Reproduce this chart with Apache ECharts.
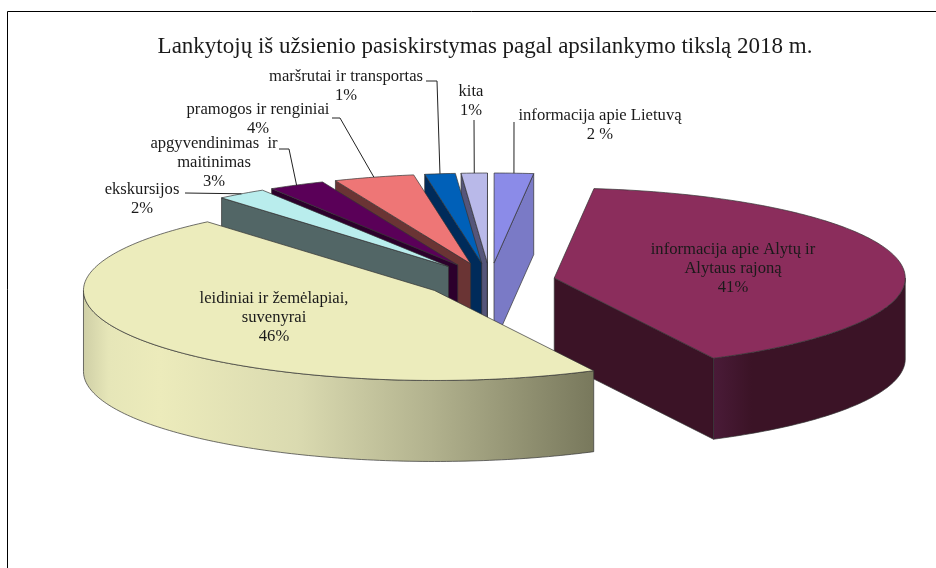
<!DOCTYPE html>
<html><head><meta charset="utf-8">
<style>html,body{margin:0;padding:0;background:#fff}#c{width:936px;height:568px}</style>
<script src="https://cdn.jsdelivr.net/npm/echarts@6/dist/echarts.min.js"></script>
</head><body><div id="c"></div>
<script>
// Draw order: back to front
const categories = ['informacija apie Alytų ir\nAlytaus rajoną','informacija apie Lietuvą','kita','maršrutai ir transportas','pramogos ir renginiai','apgyvendinimas  ir\nmaitinimas','ekskursijos','leidiniai ir žemėlapiai,\nsuvenyrai'];
const values = [40.7, 1.8, 1.2, 1.4, 3.7, 2.6, 2.3, 46.3];
const percentLabels = ['41%','2 %','1%','1%','4%','3%','2%','46%'];
const topColors = ['#8b2d5c','#8b8be8','#b9b9e9','#0060b8','#ee7676','#5a0058','#b9eded','#ececbc'];
const wallColors = ['#3b1326','#7a7ac6','#55557a','#002b5a','#6a3434','#2c002c','#526666','#ececbc'];
const explodeRatio = [0.186,0.2,0.2,0.2,0.2,0.2,0.2,0.19];
const labelAnchors = [[733,269],[600,125],[471,101],[346,86],[258,119],[214,163],[142,199],[274,318]];
const leaderElbows = [null,[[514,122]],[[474,120]],[[426,81],[437,81]],[[332,118],[340,118]],[[279,149],[289,149]],[[185,193]],null];

const CX = 490, CY = 281, RX = 351, RY = 90, H = 81, START = 6.5;
const rad = d => d * Math.PI / 180;
const total = values.reduce((a, b) => a + b, 0);
const slices = [];
let cursor = START;
values.forEach((v, i) => {
  const sweep = v / total * 360;
  let t1, t2;
  if (i === 0) { t1 = START; t2 = START + sweep; }
  else { t2 = cursor; t1 = cursor - sweep; cursor = t1; }
  const m = (t1 + t2) / 2;
  const e = explodeRatio[i];
  slices.push({ t1, t2, px: CX + e * RX * Math.sin(rad(m)), py: CY - e * RY * Math.cos(rad(m)) });
});
const rim = (s, t, dy) => [s.px + RX * Math.sin(rad(t)), s.py - RY * Math.cos(rad(t)) + (dy || 0)];
const arc = (s, a, b, dy) => { const r = []; const n = Math.max(2, Math.ceil(Math.abs(b - a))); for (let k = 0; k <= n; k++) r.push(rim(s, a + (b - a) * k / n, dy)); return r; };
const edgeStyle = { stroke: '#333333', lineWidth: 0.7 };
const poly = (points, fill) => ({ type: 'polygon', shape: { points }, style: Object.assign({ fill }, edgeStyle) });

function renderSlice(params, api) {
  const i = api.value(0);
  const s = slices[i];
  const fill = wallColors[i];
  const kids = [];
  const face = t => { const r = rim(s, t); return [[s.px, s.py], r, [r[0], r[1] + H], [s.px, s.py + H]]; };
  if (Math.sin(rad(s.t1)) < 0 && i !== values.length - 1) kids.push(poly(face(s.t1), fill));
  if (Math.sin(rad(s.t2)) > 0) kids.push(poly(face(s.t2), fill));
  let from = Math.max(s.t1, 90), to = Math.min(s.t2, 270);
  if (s.t2 <= 0) { from = Math.max(s.t1 + 360, 90); to = Math.min(s.t2 + 360, 270); }
  if (to > from) {
    const wall = arc(s, from, to).concat(arc(s, to, from, H));
    let wf = fill;
    if (i === values.length - 1) wf = new echarts.graphic.LinearGradient(0, 0, 1, 0, [
      { offset: 0, color: '#cfcfa6' }, { offset: 0.05, color: '#e6e6b8' }, { offset: 0.15, color: '#ecebbb' }, { offset: 0.42, color: '#dadab0' },
      { offset: 0.68, color: '#b2b28e' }, { offset: 1, color: '#78785c' }]);
    if (i === 0) wf = new echarts.graphic.LinearGradient(0, 0, 1, 0, [
      { offset: 0, color: '#4a1b38' }, { offset: 0.2, color: '#3b1326' }, { offset: 1, color: '#3b1326' }]);
    kids.push(poly(wall, wf));
  }
  kids.push(poly([[s.px, s.py]].concat(arc(s, s.t1, s.t2)), topColors[i]));
  return { type: 'group', children: kids };
}

function renderLabel(params, api) {
  const i = api.value(0);
  const kids = [{ type: 'text', style: { text: categories[i] + '\n' + percentLabels[i], x: labelAnchors[i][0], y: labelAnchors[i][1], align: 'center', verticalAlign: 'middle',
    font: '16.6px "Liberation Serif"', fill: '#1a1a1a', lineHeight: 19 } }];
  if (leaderElbows[i]) {
    const s = slices[i], m = (s.t1 + s.t2) / 2;
    const pts = leaderElbows[i].concat([rim(s, m)]);
    kids.push({ type: 'polyline', shape: { points: pts }, style: { stroke: '#222', lineWidth: 1, fill: 'none' } });
  }
  return { type: 'group', children: kids };
}

const ids = values.map((v, i) => [i]);
const chart = echarts.init(document.getElementById('c'), null, { renderer: 'canvas' });
chart.setOption({
  animation: false,
  backgroundColor: '#fff',
  title: { text: 'Lankytojų iš užsienio pasiskirstymas pagal apsilankymo tikslą 2018 m.', left: 480, top: 30, textAlign: 'center',
    textStyle: { fontFamily: 'Liberation Serif', fontSize: 23, fontWeight: 'normal', color: '#1a1a1a' } },
  graphic: [
    { type: 'line', shape: { x1: 7.5, y1: 11.5, x2: 936, y2: 11.5 }, style: { stroke: '#000', lineWidth: 1 } },
    { type: 'line', shape: { x1: 7.5, y1: 11.5, x2: 7.5, y2: 568 }, style: { stroke: '#000', lineWidth: 1 } }
  ],
  series: [
    { type: 'custom', coordinateSystem: 'none', renderItem: renderSlice, data: ids, z: 2, silent: true },
    { type: 'custom', coordinateSystem: 'none', renderItem: renderLabel, data: ids, z: 3, silent: true }
  ]
});
</script></body></html>
